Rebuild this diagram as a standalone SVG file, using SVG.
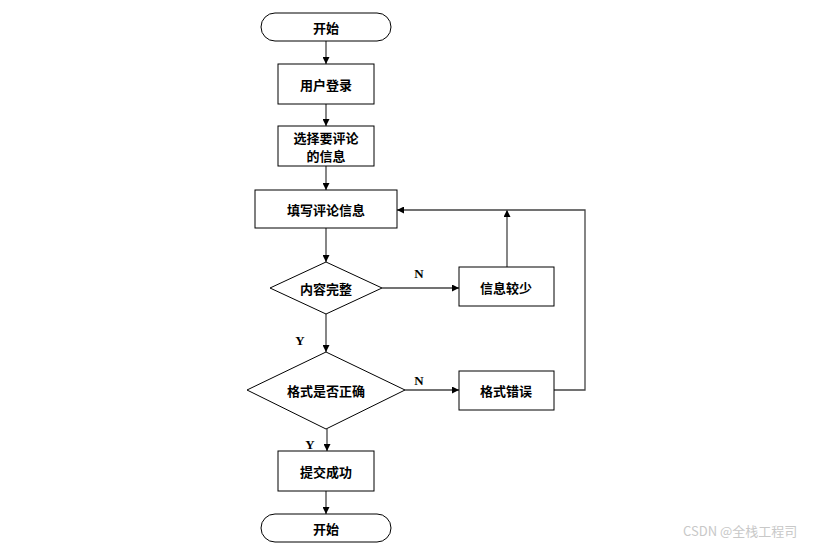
<svg xmlns="http://www.w3.org/2000/svg" width="827" height="547" viewBox="0 0 827 547">
<style>
.n{fill:#fff;stroke:#000;stroke-width:1}
.t{font-family:"Noto Sans CJK SC","Noto Sans",sans-serif;font-size:13px;font-weight:bold;fill:#000;text-anchor:middle;dominant-baseline:central}
.l{font-family:"Liberation Serif",serif;font-size:13px;font-weight:bold;fill:#000;text-anchor:middle;dominant-baseline:central}
.c{fill:none;stroke:#444;stroke-width:1.3}
.w{font-family:"Noto Sans CJK SC","Noto Sans",sans-serif;font-size:13px;fill:#c8c8c8}
</style>
<defs>
<marker id="a" viewBox="0 0 10 10" refX="10" refY="5" markerWidth="7" markerHeight="7" markerUnits="userSpaceOnUse" orient="auto">
<path d="M0,0 L10,5 L0,10 z" fill="#000"/>
</marker>
</defs>
<rect width="827" height="547" fill="#fff"/>
<g id="connectors">
<line class="c" x1="326" y1="41" x2="326" y2="64" marker-end="url(#a)"/>
<line class="c" x1="326" y1="104" x2="326" y2="126" marker-end="url(#a)"/>
<line class="c" x1="326" y1="166" x2="326" y2="190" marker-end="url(#a)"/>
<line class="c" x1="326" y1="228" x2="326" y2="262" marker-end="url(#a)"/>
<line class="c" x1="382" y1="288" x2="459" y2="288" marker-end="url(#a)"/>
<line class="c" x1="507" y1="267" x2="507" y2="210" marker-end="url(#a)"/>
<line class="c" x1="326" y1="314" x2="326" y2="352" marker-end="url(#a)"/>
<line class="c" x1="405" y1="390" x2="459" y2="390" marker-end="url(#a)"/>
<polyline class="c" points="554,390 585,390 585,210 397,210" marker-end="url(#a)"/>
<line class="c" x1="327" y1="429" x2="327" y2="451" marker-end="url(#a)"/>
<line class="c" x1="326" y1="491" x2="326" y2="514" marker-end="url(#a)"/>
<text class="l" x="419" y="273">N</text>
<text class="l" x="419" y="380">N</text>
<text class="l" x="300" y="340">Y</text>
<text class="l" x="310" y="444">Y</text>
</g>
<g id="start">
<rect class="n" x="261" y="13" width="130" height="28" rx="14" ry="14"/>
<text class="t" x="326" y="27">开始</text>
</g>
<g id="login">
<rect class="n" x="278" y="64" width="96" height="40"/>
<text class="t" x="326" y="84">用户登录</text>
</g>
<g id="select">
<rect class="n" x="278" y="126" width="96" height="40"/>
<text class="t" x="326" y="137">选择要评论</text>
<text class="t" x="326" y="155">的信息</text>
</g>
<g id="fill">
<rect class="n" x="255" y="190" width="142" height="38"/>
<text class="t" x="326" y="209">填写评论信息</text>
</g>
<g id="complete">
<polygon class="n" points="326,262 382,288 326,314 270,288"/>
<text class="t" x="326" y="288">内容完整</text>
</g>
<g id="less">
<rect class="n" x="459" y="267" width="95" height="39"/>
<text class="t" x="506" y="287">信息较少</text>
</g>
<g id="format">
<polygon class="n" points="326,352 405,390 326,429 247,390"/>
<text class="t" x="326" y="390">格式是否正确</text>
</g>
<g id="formaterr">
<rect class="n" x="459" y="371" width="95" height="39"/>
<text class="t" x="506" y="390">格式错误</text>
</g>
<g id="submit">
<rect class="n" x="278" y="451" width="96" height="40"/>
<text class="t" x="326" y="471">提交成功</text>
</g>
<g id="end">
<rect class="n" x="261" y="514" width="130" height="28" rx="14" ry="14"/>
<text class="t" x="326" y="528">开始</text>
</g>
<text class="w" x="683" y="536">CSDN @全栈工程司</text>
</svg>
